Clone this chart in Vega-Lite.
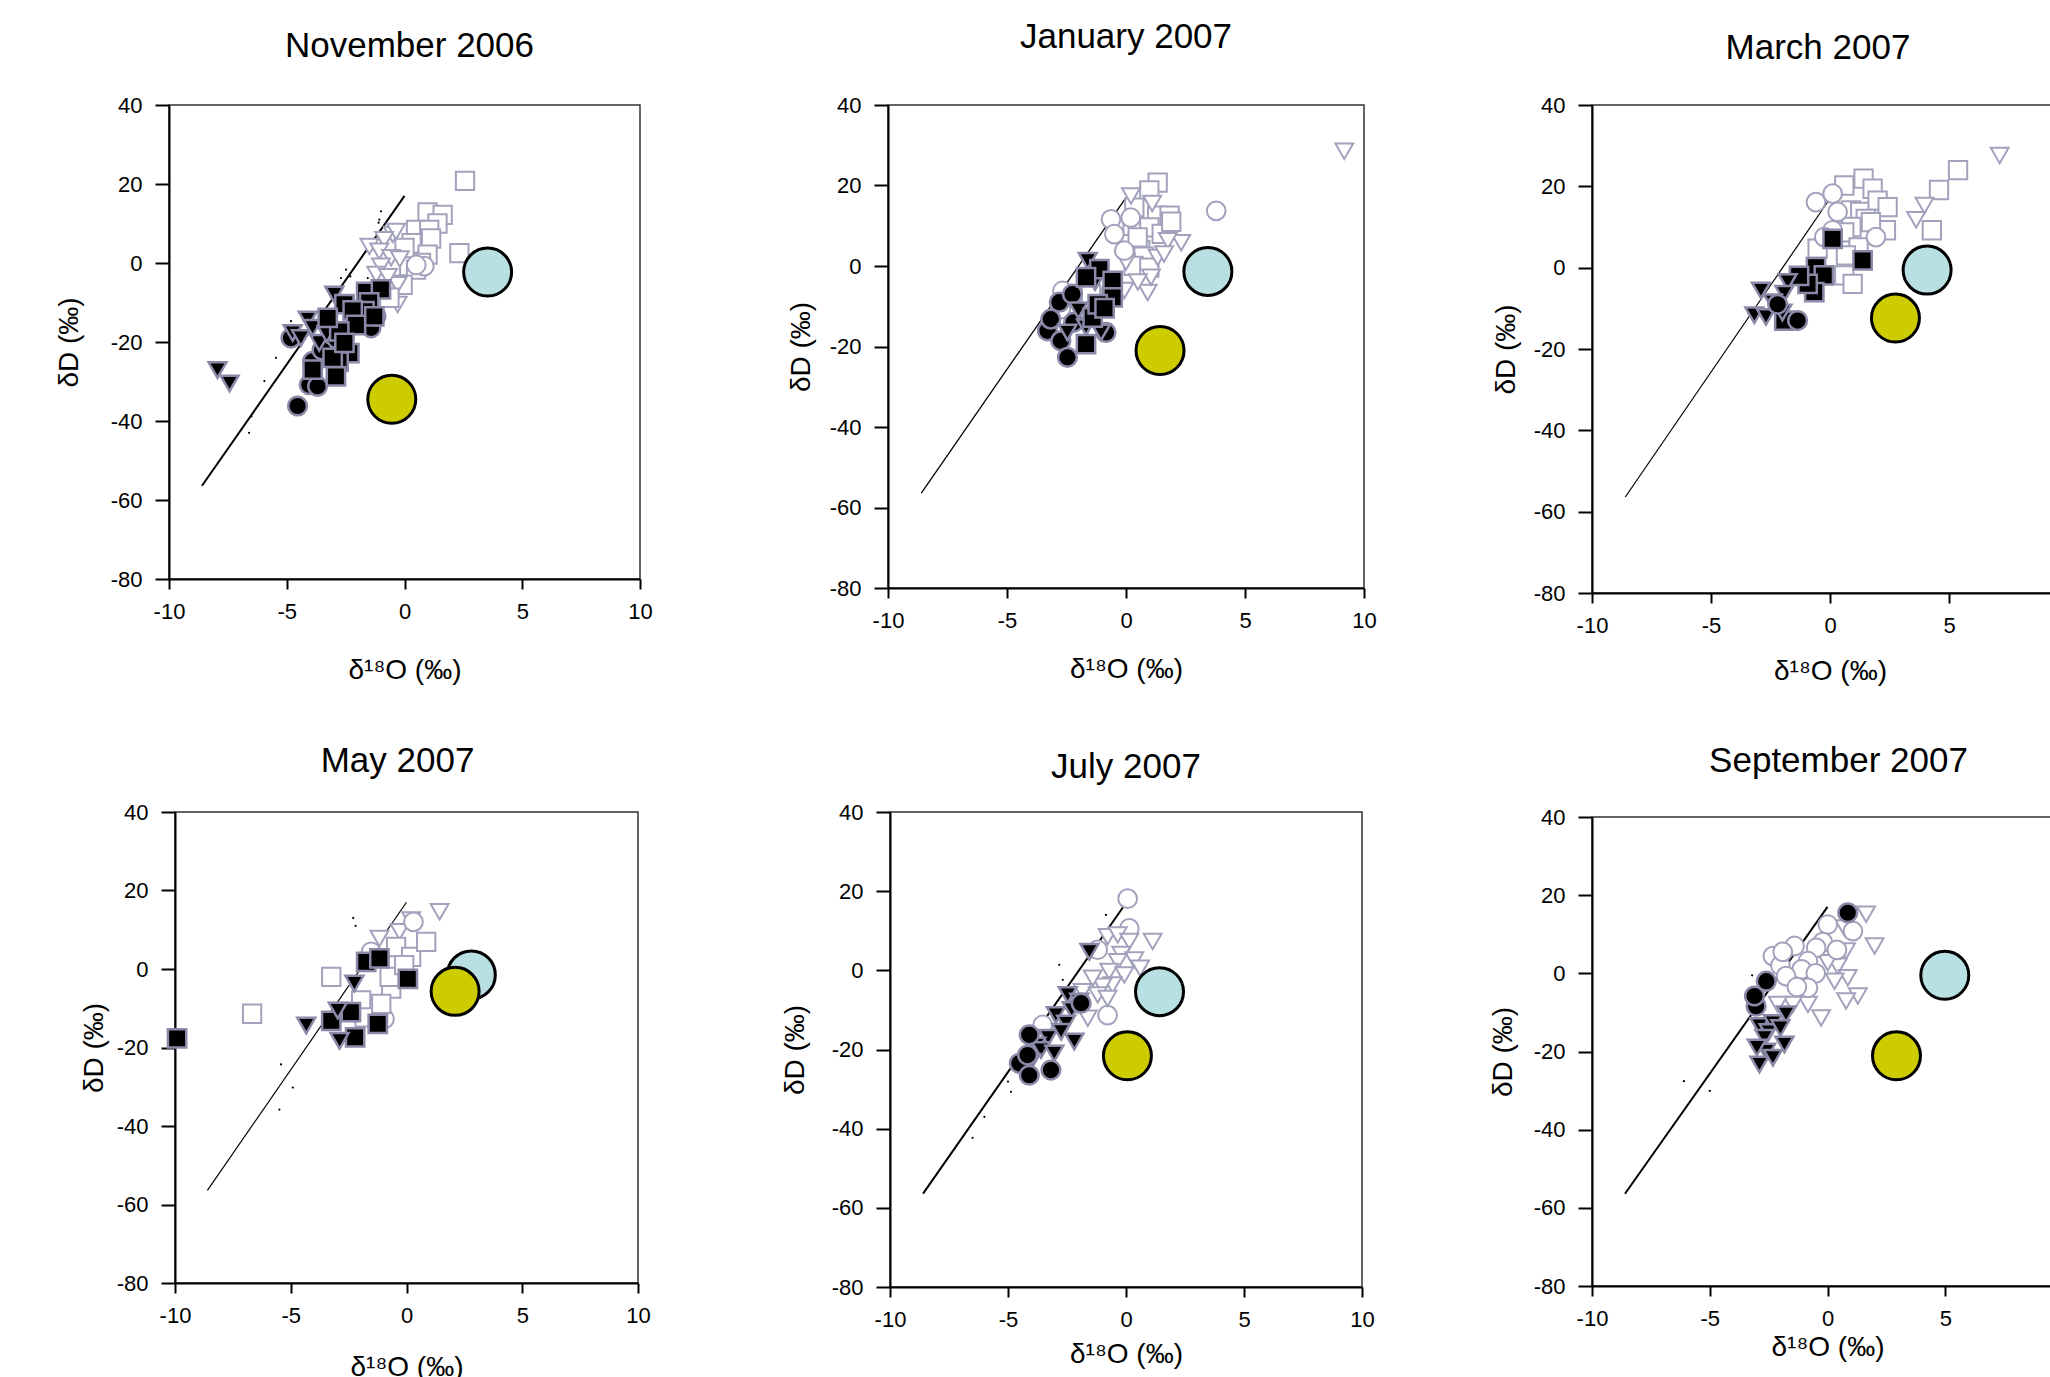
{
  "$schema": "https://vega.github.io/schema/vega-lite/v6.json",
  "background": "white",
  "padding": {"left": 54, "top": 19, "right": 0, "bottom": 0},
  "autosize": {"type": "pad"},
  "datasets": {
    "lmwl": [{"d18O": -8.6, "dD": -56.4, "d18O_end": 0, "dD_end": 17}],
    "ends": [
      {"month": "Nov 2006", "end": "A", "d18O": 3.53, "dD": -2.3},
      {"month": "Nov 2006", "end": "B", "d18O": -0.54, "dD": -34.5},
      {"month": "Jan 2007", "end": "A", "d18O": 3.44, "dD": -1.35},
      {"month": "Jan 2007", "end": "B", "d18O": 1.43, "dD": -21.0},
      {"month": "Mar 2007", "end": "A", "d18O": 4.08, "dD": -0.6},
      {"month": "Mar 2007", "end": "B", "d18O": 2.75, "dD": -12.4},
      {"month": "May 2007", "end": "A", "d18O": 2.8, "dD": -1.5},
      {"month": "May 2007", "end": "B", "d18O": 2.1, "dD": -5.7},
      {"month": "Jul 2007", "end": "A", "d18O": 1.42, "dD": -5.4},
      {"month": "Jul 2007", "end": "B", "d18O": 0.06, "dD": -21.6},
      {"month": "Sep 2007", "end": "A", "d18O": 4.98, "dD": -0.5},
      {"month": "Sep 2007", "end": "B", "d18O": 2.93, "dD": -21.1}
    ],
    "dots": [
      {"month": "Nov 2006", "d18O": -1.0, "dD": 13.1}, {"month": "Nov 2006", "d18O": -1.07, "dD": 11.0}, {"month": "Nov 2006", "d18O": -1.1, "dD": 10.2},
      {"month": "Nov 2006", "d18O": -2.48, "dD": -1.7}, {"month": "Nov 2006", "d18O": -2.7, "dD": -3.8}, {"month": "Nov 2006", "d18O": -2.3, "dD": -3.4},
      {"month": "Nov 2006", "d18O": -1.56, "dD": -3.8}, {"month": "Nov 2006", "d18O": -4.82, "dD": -14.7}, {"month": "Nov 2006", "d18O": -5.46, "dD": -24.0},
      {"month": "Nov 2006", "d18O": -5.95, "dD": -29.9}, {"month": "Nov 2006", "d18O": -6.5, "dD": -38.8}, {"month": "Nov 2006", "d18O": -6.6, "dD": -43.0},
      {"month": "May 2007", "d18O": -5.42, "dD": -24.3}, {"month": "May 2007", "d18O": -4.91, "dD": -30.2}, {"month": "May 2007", "d18O": -5.49, "dD": -35.8},
      {"month": "May 2007", "d18O": -2.3, "dD": 13.0}, {"month": "May 2007", "d18O": -2.2, "dD": 11.0},
      {"month": "Jul 2007", "d18O": -0.85, "dD": 14.0}, {"month": "Jul 2007", "d18O": -2.83, "dD": 1.4}, {"month": "Jul 2007", "d18O": -2.68, "dD": -2.4},
      {"month": "Jul 2007", "d18O": -5.0, "dD": -28.1}, {"month": "Jul 2007", "d18O": -4.87, "dD": -30.7}, {"month": "Jul 2007", "d18O": -6.0, "dD": -37.0},
      {"month": "Jul 2007", "d18O": -6.5, "dD": -42.3},
      {"month": "Sep 2007", "d18O": -5.0, "dD": -30.1}, {"month": "Sep 2007", "d18O": -6.1, "dD": -27.6}, {"month": "Sep 2007", "d18O": -3.2, "dD": -0.5}
    ],
    "pts": [
      {"month": "Nov 2006", "group": "open", "symbol": "square", "d18O": 2.57, "dD": 20.8},
      {"month": "Nov 2006", "group": "open", "symbol": "square", "d18O": 0.98, "dD": 12.8},
      {"month": "Nov 2006", "group": "open", "symbol": "square", "d18O": 1.62, "dD": 12.2},
      {"month": "Nov 2006", "group": "open", "symbol": "square", "d18O": 1.4, "dD": 10.0},
      {"month": "Nov 2006", "group": "open", "symbol": "square", "d18O": 0.49, "dD": 8.4},
      {"month": "Nov 2006", "group": "open", "symbol": "square", "d18O": 1.05, "dD": 8.4},
      {"month": "Nov 2006", "group": "open", "symbol": "square", "d18O": 1.13, "dD": 6.2},
      {"month": "Nov 2006", "group": "open", "symbol": "square", "d18O": 0.3, "dD": 5.0},
      {"month": "Nov 2006", "group": "open", "symbol": "square", "d18O": 2.33, "dD": 2.5},
      {"month": "Nov 2006", "group": "open", "symbol": "square", "d18O": 0.98, "dD": 2.1},
      {"month": "Nov 2006", "group": "open", "symbol": "square", "d18O": 0.7, "dD": 0.0},
      {"month": "Nov 2006", "group": "open", "symbol": "square", "d18O": 0.2, "dD": -0.8},
      {"month": "Nov 2006", "group": "open", "symbol": "square", "d18O": 0.49, "dD": -1.7},
      {"month": "Nov 2006", "group": "open", "symbol": "square", "d18O": -0.08, "dD": -5.5},
      {"month": "Nov 2006", "group": "open", "symbol": "square", "d18O": 0.0, "dD": 3.8},
      {"month": "Nov 2006", "group": "open", "symbol": "triangle", "d18O": -1.49, "dD": 4.2},
      {"month": "Nov 2006", "group": "open", "symbol": "triangle", "d18O": -0.5, "dD": 7.2},
      {"month": "Nov 2006", "group": "open", "symbol": "triangle", "d18O": -0.36, "dD": 8.0},
      {"month": "Nov 2006", "group": "open", "symbol": "triangle", "d18O": -0.86, "dD": 5.9},
      {"month": "Nov 2006", "group": "open", "symbol": "triangle", "d18O": -1.07, "dD": 3.0},
      {"month": "Nov 2006", "group": "open", "symbol": "triangle", "d18O": -0.57, "dD": 1.3},
      {"month": "Nov 2006", "group": "open", "symbol": "triangle", "d18O": -1.0, "dD": -0.8},
      {"month": "Nov 2006", "group": "open", "symbol": "triangle", "d18O": -1.2, "dD": -2.9},
      {"month": "Nov 2006", "group": "open", "symbol": "triangle", "d18O": -0.29, "dD": -5.5},
      {"month": "Nov 2006", "group": "open", "symbol": "triangle", "d18O": -0.29, "dD": -10.5},
      {"month": "Nov 2006", "group": "open", "symbol": "triangle", "d18O": -0.7, "dD": -3.5},
      {"month": "Nov 2006", "group": "open", "symbol": "triangle", "d18O": -0.2, "dD": 1.0},
      {"month": "Nov 2006", "group": "open", "symbol": "circle", "d18O": 0.84, "dD": -0.8},
      {"month": "Nov 2006", "group": "open", "symbol": "circle", "d18O": 0.5, "dD": -0.5},
      {"month": "Nov 2006", "group": "filled", "symbol": "circle", "d18O": -4.54, "dD": -36.2},
      {"month": "Nov 2006", "group": "filled", "symbol": "circle", "d18O": -4.04, "dD": -30.8},
      {"month": "Nov 2006", "group": "filled", "symbol": "circle", "d18O": -3.69, "dD": -31.2},
      {"month": "Nov 2006", "group": "filled", "symbol": "circle", "d18O": -4.82, "dD": -19.0},
      {"month": "Nov 2006", "group": "filled", "symbol": "circle", "d18O": -3.9, "dD": -24.9},
      {"month": "Nov 2006", "group": "filled", "symbol": "circle", "d18O": -1.42, "dD": -16.4},
      {"month": "Nov 2006", "group": "filled", "symbol": "circle", "d18O": -1.21, "dD": -13.5},
      {"month": "Nov 2006", "group": "filled", "symbol": "circle", "d18O": -2.98, "dD": -19.0},
      {"month": "Nov 2006", "group": "filled", "symbol": "circle", "d18O": -3.5, "dD": -22.0},
      {"month": "Nov 2006", "group": "filled", "symbol": "triangle", "d18O": -2.98, "dD": -8.0},
      {"month": "Nov 2006", "group": "filled", "symbol": "triangle", "d18O": -4.11, "dD": -14.3},
      {"month": "Nov 2006", "group": "filled", "symbol": "triangle", "d18O": -4.75, "dD": -17.7},
      {"month": "Nov 2006", "group": "filled", "symbol": "triangle", "d18O": -4.4, "dD": -19.0},
      {"month": "Nov 2006", "group": "filled", "symbol": "triangle", "d18O": -3.62, "dD": -20.2},
      {"month": "Nov 2006", "group": "filled", "symbol": "triangle", "d18O": -3.9, "dD": -16.4},
      {"month": "Nov 2006", "group": "filled", "symbol": "triangle", "d18O": -3.3, "dD": -18.0},
      {"month": "Nov 2006", "group": "filled", "symbol": "triangle", "d18O": -7.94, "dD": -27.1},
      {"month": "Nov 2006", "group": "filled", "symbol": "triangle", "d18O": -7.43, "dD": -30.5},
      {"month": "Nov 2006", "group": "filled", "symbol": "square", "d18O": -1.63, "dD": -7.3},
      {"month": "Nov 2006", "group": "filled", "symbol": "square", "d18O": -1.0, "dD": -6.7},
      {"month": "Nov 2006", "group": "filled", "symbol": "square", "d18O": -2.55, "dD": -10.4},
      {"month": "Nov 2006", "group": "filled", "symbol": "square", "d18O": -1.5, "dD": -10.0},
      {"month": "Nov 2006", "group": "filled", "symbol": "square", "d18O": -1.7, "dD": -12.2},
      {"month": "Nov 2006", "group": "filled", "symbol": "square", "d18O": -2.2, "dD": -12.0},
      {"month": "Nov 2006", "group": "filled", "symbol": "square", "d18O": -2.06, "dD": -15.7},
      {"month": "Nov 2006", "group": "filled", "symbol": "square", "d18O": -1.28, "dD": -13.5},
      {"month": "Nov 2006", "group": "filled", "symbol": "square", "d18O": -2.77, "dD": -17.3},
      {"month": "Nov 2006", "group": "filled", "symbol": "square", "d18O": -3.26, "dD": -13.9},
      {"month": "Nov 2006", "group": "filled", "symbol": "square", "d18O": -2.34, "dD": -22.8},
      {"month": "Nov 2006", "group": "filled", "symbol": "square", "d18O": -2.8, "dD": -25.0},
      {"month": "Nov 2006", "group": "filled", "symbol": "square", "d18O": -3.05, "dD": -24.0},
      {"month": "Nov 2006", "group": "filled", "symbol": "square", "d18O": -3.9, "dD": -27.0},
      {"month": "Nov 2006", "group": "filled", "symbol": "square", "d18O": -2.91, "dD": -28.7},
      {"month": "Nov 2006", "group": "filled", "symbol": "square", "d18O": -2.55, "dD": -20.2},
      {"month": "Nov 2006", "group": "open", "symbol": "square", "d18O": -0.64, "dD": -8.8},

      {"month": "Jan 2007", "group": "open", "symbol": "square", "d18O": 1.33, "dD": 20.7},
      {"month": "Jan 2007", "group": "open", "symbol": "square", "d18O": 0.98, "dD": 18.8},
      {"month": "Jan 2007", "group": "open", "symbol": "square", "d18O": 0.35, "dD": 14.5},
      {"month": "Jan 2007", "group": "open", "symbol": "square", "d18O": 1.31, "dD": 12.5},
      {"month": "Jan 2007", "group": "open", "symbol": "square", "d18O": 1.83, "dD": 12.5},
      {"month": "Jan 2007", "group": "open", "symbol": "square", "d18O": 0.28, "dD": 10.0},
      {"month": "Jan 2007", "group": "open", "symbol": "square", "d18O": 0.98, "dD": 9.6},
      {"month": "Jan 2007", "group": "open", "symbol": "square", "d18O": 1.5, "dD": 8.0},
      {"month": "Jan 2007", "group": "open", "symbol": "square", "d18O": 0.6, "dD": 4.0},
      {"month": "Jan 2007", "group": "open", "symbol": "square", "d18O": 0.74, "dD": 2.3},
      {"month": "Jan 2007", "group": "open", "symbol": "square", "d18O": 0.32, "dD": 0.05},
      {"month": "Jan 2007", "group": "open", "symbol": "square", "d18O": 0.98, "dD": -0.4},
      {"month": "Jan 2007", "group": "open", "symbol": "square", "d18O": 0.49, "dD": 7.1},
      {"month": "Jan 2007", "group": "open", "symbol": "square", "d18O": 1.9, "dD": 11.0},
      {"month": "Jan 2007", "group": "open", "symbol": "triangle", "d18O": 0.21, "dD": 17.4},
      {"month": "Jan 2007", "group": "open", "symbol": "triangle", "d18O": 2.32, "dD": 5.8},
      {"month": "Jan 2007", "group": "open", "symbol": "triangle", "d18O": 1.76, "dD": 6.3},
      {"month": "Jan 2007", "group": "open", "symbol": "triangle", "d18O": 0.91, "dD": -6.6},
      {"month": "Jan 2007", "group": "open", "symbol": "triangle", "d18O": 1.33, "dD": 2.1},
      {"month": "Jan 2007", "group": "open", "symbol": "triangle", "d18O": 1.6, "dD": 3.0},
      {"month": "Jan 2007", "group": "open", "symbol": "triangle", "d18O": 1.05, "dD": -2.8},
      {"month": "Jan 2007", "group": "open", "symbol": "triangle", "d18O": -0.07, "dD": -6.1},
      {"month": "Jan 2007", "group": "open", "symbol": "triangle", "d18O": 1.1, "dD": 15.5},
      {"month": "Jan 2007", "group": "open", "symbol": "triangle", "d18O": 0.5, "dD": -4.0},
      {"month": "Jan 2007", "group": "open", "symbol": "triangle", "d18O": 0.0, "dD": 1.0},
      {"month": "Jan 2007", "group": "open", "symbol": "triangle", "d18O": 9.17, "dD": 28.5},
      {"month": "Jan 2007", "group": "open", "symbol": "circle", "d18O": 3.79, "dD": 13.7},
      {"month": "Jan 2007", "group": "open", "symbol": "circle", "d18O": -0.63, "dD": 11.6},
      {"month": "Jan 2007", "group": "open", "symbol": "circle", "d18O": -0.49, "dD": 7.9},
      {"month": "Jan 2007", "group": "open", "symbol": "circle", "d18O": 0.2, "dD": 12.0},
      {"month": "Jan 2007", "group": "open", "symbol": "circle", "d18O": -0.07, "dD": 3.8},
      {"month": "Jan 2007", "group": "open", "symbol": "circle", "d18O": -0.63, "dD": -6.2},
      {"month": "Jan 2007", "group": "open", "symbol": "circle", "d18O": -2.67, "dD": -6.2},
      {"month": "Jan 2007", "group": "open", "symbol": "circle", "d18O": -2.74, "dD": -10.7},
      {"month": "Jan 2007", "group": "filled", "symbol": "circle", "d18O": -2.8, "dD": -9.0},
      {"month": "Jan 2007", "group": "filled", "symbol": "circle", "d18O": -3.3, "dD": -16.1},
      {"month": "Jan 2007", "group": "filled", "symbol": "circle", "d18O": -2.74, "dD": -18.6},
      {"month": "Jan 2007", "group": "filled", "symbol": "circle", "d18O": -2.46, "dD": -22.7},
      {"month": "Jan 2007", "group": "filled", "symbol": "circle", "d18O": -0.84, "dD": -16.5},
      {"month": "Jan 2007", "group": "filled", "symbol": "circle", "d18O": -3.16, "dD": -13.2},
      {"month": "Jan 2007", "group": "filled", "symbol": "circle", "d18O": -2.25, "dD": -7.0},
      {"month": "Jan 2007", "group": "filled", "symbol": "circle", "d18O": -2.2, "dD": -14.0},
      {"month": "Jan 2007", "group": "filled", "symbol": "triangle", "d18O": -1.61, "dD": 1.3},
      {"month": "Jan 2007", "group": "filled", "symbol": "triangle", "d18O": -2.46, "dD": -16.5},
      {"month": "Jan 2007", "group": "filled", "symbol": "triangle", "d18O": -1.68, "dD": -15.2},
      {"month": "Jan 2007", "group": "filled", "symbol": "triangle", "d18O": -1.05, "dD": -16.5},
      {"month": "Jan 2007", "group": "filled", "symbol": "triangle", "d18O": -1.3, "dD": -4.0},
      {"month": "Jan 2007", "group": "filled", "symbol": "triangle", "d18O": -2.0, "dD": -11.0},
      {"month": "Jan 2007", "group": "filled", "symbol": "square", "d18O": -1.12, "dD": -0.8},
      {"month": "Jan 2007", "group": "filled", "symbol": "square", "d18O": -0.56, "dD": -3.7},
      {"month": "Jan 2007", "group": "filled", "symbol": "square", "d18O": -0.56, "dD": -7.8},
      {"month": "Jan 2007", "group": "filled", "symbol": "square", "d18O": -1.68, "dD": -2.8},
      {"month": "Jan 2007", "group": "filled", "symbol": "square", "d18O": -1.68, "dD": -19.4},
      {"month": "Jan 2007", "group": "filled", "symbol": "square", "d18O": -1.4, "dD": -12.8},
      {"month": "Jan 2007", "group": "filled", "symbol": "square", "d18O": -1.19, "dD": -9.5},
      {"month": "Jan 2007", "group": "filled", "symbol": "square", "d18O": -0.9, "dD": -10.5},
      {"month": "Jan 2007", "group": "open", "symbol": "square", "d18O": -1.47, "dD": -7.0},

      {"month": "Mar 2007", "group": "open", "symbol": "square", "d18O": 0.6, "dD": 20.2},
      {"month": "Mar 2007", "group": "open", "symbol": "square", "d18O": 1.41, "dD": 21.9},
      {"month": "Mar 2007", "group": "open", "symbol": "square", "d18O": 1.79, "dD": 19.4},
      {"month": "Mar 2007", "group": "open", "symbol": "square", "d18O": 0.88, "dD": 14.1},
      {"month": "Mar 2007", "group": "open", "symbol": "square", "d18O": 1.27, "dD": 13.7},
      {"month": "Mar 2007", "group": "open", "symbol": "square", "d18O": 2.0, "dD": 16.5},
      {"month": "Mar 2007", "group": "open", "symbol": "square", "d18O": 2.42, "dD": 14.9},
      {"month": "Mar 2007", "group": "open", "symbol": "square", "d18O": 1.5, "dD": 12.0},
      {"month": "Mar 2007", "group": "open", "symbol": "square", "d18O": 2.35, "dD": 9.2},
      {"month": "Mar 2007", "group": "open", "symbol": "square", "d18O": 1.72, "dD": 11.2},
      {"month": "Mar 2007", "group": "open", "symbol": "square", "d18O": 0.9, "dD": 10.0},
      {"month": "Mar 2007", "group": "open", "symbol": "square", "d18O": 0.6, "dD": 8.7},
      {"month": "Mar 2007", "group": "open", "symbol": "square", "d18O": 1.2, "dD": 5.0},
      {"month": "Mar 2007", "group": "open", "symbol": "square", "d18O": -0.52, "dD": 4.7},
      {"month": "Mar 2007", "group": "open", "symbol": "square", "d18O": 0.67, "dD": 3.0},
      {"month": "Mar 2007", "group": "open", "symbol": "square", "d18O": 0.6, "dD": -1.9},
      {"month": "Mar 2007", "group": "open", "symbol": "square", "d18O": 0.95, "dD": -4.0},
      {"month": "Mar 2007", "group": "open", "symbol": "square", "d18O": 5.38, "dD": 24.0},
      {"month": "Mar 2007", "group": "open", "symbol": "square", "d18O": 4.58, "dD": 19.1},
      {"month": "Mar 2007", "group": "open", "symbol": "square", "d18O": 4.28, "dD": 9.2},
      {"month": "Mar 2007", "group": "open", "symbol": "triangle", "d18O": 7.13, "dD": 27.6},
      {"month": "Mar 2007", "group": "open", "symbol": "triangle", "d18O": 3.97, "dD": 15.3},
      {"month": "Mar 2007", "group": "open", "symbol": "triangle", "d18O": 3.62, "dD": 11.8},
      {"month": "Mar 2007", "group": "open", "symbol": "circle", "d18O": -0.59, "dD": 16.1},
      {"month": "Mar 2007", "group": "open", "symbol": "circle", "d18O": 0.11, "dD": 18.2},
      {"month": "Mar 2007", "group": "open", "symbol": "circle", "d18O": 0.32, "dD": 13.7},
      {"month": "Mar 2007", "group": "open", "symbol": "circle", "d18O": 0.11, "dD": 9.2},
      {"month": "Mar 2007", "group": "open", "symbol": "circle", "d18O": -0.24, "dD": 7.5},
      {"month": "Mar 2007", "group": "open", "symbol": "circle", "d18O": 1.93, "dD": 7.5},
      {"month": "Mar 2007", "group": "filled", "symbol": "square", "d18O": -0.59, "dD": 0.15},
      {"month": "Mar 2007", "group": "filled", "symbol": "square", "d18O": -0.26, "dD": -1.9},
      {"month": "Mar 2007", "group": "filled", "symbol": "square", "d18O": -0.66, "dD": -6.0},
      {"month": "Mar 2007", "group": "filled", "symbol": "square", "d18O": 0.11, "dD": 7.1},
      {"month": "Mar 2007", "group": "filled", "symbol": "square", "d18O": 1.37, "dD": 1.8},
      {"month": "Mar 2007", "group": "filled", "symbol": "square", "d18O": -1.92, "dD": -13.0},
      {"month": "Mar 2007", "group": "filled", "symbol": "square", "d18O": -0.94, "dD": -4.0},
      {"month": "Mar 2007", "group": "filled", "symbol": "square", "d18O": -1.3, "dD": -2.0},
      {"month": "Mar 2007", "group": "filled", "symbol": "triangle", "d18O": -1.78, "dD": -3.5},
      {"month": "Mar 2007", "group": "filled", "symbol": "triangle", "d18O": -2.9, "dD": -5.6},
      {"month": "Mar 2007", "group": "filled", "symbol": "triangle", "d18O": -3.18, "dD": -11.7},
      {"month": "Mar 2007", "group": "filled", "symbol": "triangle", "d18O": -2.69, "dD": -12.1},
      {"month": "Mar 2007", "group": "filled", "symbol": "triangle", "d18O": -1.92, "dD": -6.4},
      {"month": "Mar 2007", "group": "filled", "symbol": "triangle", "d18O": -2.4, "dD": -8.5},
      {"month": "Mar 2007", "group": "filled", "symbol": "triangle", "d18O": -2.0, "dD": -11.0},
      {"month": "Mar 2007", "group": "filled", "symbol": "circle", "d18O": -1.36, "dD": -13.0},
      {"month": "Mar 2007", "group": "filled", "symbol": "circle", "d18O": -2.2, "dD": -9.0},

      {"month": "May 2007", "group": "open", "symbol": "square", "d18O": -6.67, "dD": -11.4},
      {"month": "May 2007", "group": "open", "symbol": "square", "d18O": -3.25, "dD": -2.0},
      {"month": "May 2007", "group": "open", "symbol": "triangle", "d18O": 1.43, "dD": 14.6},
      {"month": "May 2007", "group": "open", "symbol": "triangle", "d18O": 0.2, "dD": 12.5},
      {"month": "May 2007", "group": "open", "symbol": "triangle", "d18O": -0.3, "dD": 9.5},
      {"month": "May 2007", "group": "open", "symbol": "triangle", "d18O": -1.17, "dD": 7.8},
      {"month": "May 2007", "group": "open", "symbol": "circle", "d18O": 0.3, "dD": 12.0},
      {"month": "May 2007", "group": "open", "symbol": "circle", "d18O": -1.53, "dD": 4.4},
      {"month": "May 2007", "group": "open", "symbol": "circle", "d18O": -0.95, "dD": -12.7},
      {"month": "May 2007", "group": "filled", "symbol": "square", "d18O": -9.91, "dD": -17.7},
      {"month": "May 2007", "group": "filled", "symbol": "square", "d18O": -3.25, "dD": -13.2},
      {"month": "May 2007", "group": "filled", "symbol": "square", "d18O": -2.22, "dD": -17.4},
      {"month": "May 2007", "group": "filled", "symbol": "square", "d18O": -1.74, "dD": 1.8},
      {"month": "May 2007", "group": "filled", "symbol": "square", "d18O": -1.17, "dD": 2.7},
      {"month": "May 2007", "group": "filled", "symbol": "square", "d18O": -1.24, "dD": -14.0},
      {"month": "May 2007", "group": "filled", "symbol": "square", "d18O": -2.4, "dD": -11.0},
      {"month": "May 2007", "group": "filled", "symbol": "square", "d18O": 0.06, "dD": -2.5},
      {"month": "May 2007", "group": "filled", "symbol": "triangle", "d18O": -4.33, "dD": -14.4},
      {"month": "May 2007", "group": "filled", "symbol": "triangle", "d18O": -2.89, "dD": -18.3},
      {"month": "May 2007", "group": "filled", "symbol": "triangle", "d18O": -2.97, "dD": -10.6},
      {"month": "May 2007", "group": "filled", "symbol": "triangle", "d18O": -2.25, "dD": -3.7},
      {"month": "May 2007", "group": "open", "symbol": "square", "d18O": -1.96, "dD": -8.0},
      {"month": "May 2007", "group": "open", "symbol": "square", "d18O": -1.81, "dD": -12.3},
      {"month": "May 2007", "group": "open", "symbol": "square", "d18O": -0.66, "dD": -5.0},
      {"month": "May 2007", "group": "open", "symbol": "square", "d18O": -0.45, "dD": 5.6},
      {"month": "May 2007", "group": "open", "symbol": "square", "d18O": 0.2, "dD": 3.1},
      {"month": "May 2007", "group": "open", "symbol": "square", "d18O": 0.85, "dD": 6.9},
      {"month": "May 2007", "group": "open", "symbol": "square", "d18O": -1.09, "dD": -8.9},
      {"month": "May 2007", "group": "open", "symbol": "square", "d18O": -0.73, "dD": -2.0},
      {"month": "May 2007", "group": "open", "symbol": "square", "d18O": -0.1, "dD": 1.0},

      {"month": "Jul 2007", "group": "open", "symbol": "circle", "d18O": 0.07, "dD": 18.1},
      {"month": "Jul 2007", "group": "open", "symbol": "circle", "d18O": 0.14, "dD": 10.6},
      {"month": "Jul 2007", "group": "open", "symbol": "circle", "d18O": -1.2, "dD": 5.2},
      {"month": "Jul 2007", "group": "open", "symbol": "circle", "d18O": -0.78, "dD": -11.3},
      {"month": "Jul 2007", "group": "open", "symbol": "circle", "d18O": -3.53, "dD": -13.8},
      {"month": "Jul 2007", "group": "open", "symbol": "triangle", "d18O": -0.78, "dD": 8.5},
      {"month": "Jul 2007", "group": "open", "symbol": "triangle", "d18O": -0.35, "dD": 8.9},
      {"month": "Jul 2007", "group": "open", "symbol": "triangle", "d18O": 0.14, "dD": 7.3},
      {"month": "Jul 2007", "group": "open", "symbol": "triangle", "d18O": 1.13, "dD": 7.3},
      {"month": "Jul 2007", "group": "open", "symbol": "triangle", "d18O": -0.2, "dD": 4.0},
      {"month": "Jul 2007", "group": "open", "symbol": "triangle", "d18O": 0.35, "dD": 2.6},
      {"month": "Jul 2007", "group": "open", "symbol": "triangle", "d18O": -0.35, "dD": 2.2},
      {"month": "Jul 2007", "group": "open", "symbol": "triangle", "d18O": 0.6, "dD": 0.5},
      {"month": "Jul 2007", "group": "open", "symbol": "triangle", "d18O": -0.71, "dD": -0.3},
      {"month": "Jul 2007", "group": "open", "symbol": "triangle", "d18O": -0.07, "dD": -1.2},
      {"month": "Jul 2007", "group": "open", "symbol": "triangle", "d18O": -0.57, "dD": -3.7},
      {"month": "Jul 2007", "group": "open", "symbol": "triangle", "d18O": -1.0, "dD": -4.0},
      {"month": "Jul 2007", "group": "open", "symbol": "triangle", "d18O": -1.41, "dD": -2.0},
      {"month": "Jul 2007", "group": "open", "symbol": "triangle", "d18O": -1.84, "dD": -5.4},
      {"month": "Jul 2007", "group": "open", "symbol": "triangle", "d18O": -1.2, "dD": -6.2},
      {"month": "Jul 2007", "group": "open", "symbol": "triangle", "d18O": -0.78, "dD": -7.1},
      {"month": "Jul 2007", "group": "open", "symbol": "triangle", "d18O": -1.62, "dD": -12.1},
      {"month": "Jul 2007", "group": "open", "symbol": "triangle", "d18O": -2.05, "dD": -8.8},
      {"month": "Jul 2007", "group": "filled", "symbol": "triangle", "d18O": -1.55, "dD": 4.7},
      {"month": "Jul 2007", "group": "filled", "symbol": "triangle", "d18O": -2.47, "dD": -6.2},
      {"month": "Jul 2007", "group": "filled", "symbol": "triangle", "d18O": -1.98, "dD": -7.9},
      {"month": "Jul 2007", "group": "filled", "symbol": "triangle", "d18O": -2.3, "dD": -10.0},
      {"month": "Jul 2007", "group": "filled", "symbol": "triangle", "d18O": -2.97, "dD": -11.3},
      {"month": "Jul 2007", "group": "filled", "symbol": "triangle", "d18O": -2.54, "dD": -13.4},
      {"month": "Jul 2007", "group": "filled", "symbol": "triangle", "d18O": -2.19, "dD": -18.0},
      {"month": "Jul 2007", "group": "filled", "symbol": "triangle", "d18O": -3.3, "dD": -17.0},
      {"month": "Jul 2007", "group": "filled", "symbol": "triangle", "d18O": -3.8, "dD": -19.0},
      {"month": "Jul 2007", "group": "filled", "symbol": "triangle", "d18O": -3.6, "dD": -20.1},
      {"month": "Jul 2007", "group": "filled", "symbol": "triangle", "d18O": -3.04, "dD": -21.0},
      {"month": "Jul 2007", "group": "filled", "symbol": "triangle", "d18O": -2.75, "dD": -15.5},
      {"month": "Jul 2007", "group": "filled", "symbol": "triangle", "d18O": -4.03, "dD": -23.1},
      {"month": "Jul 2007", "group": "filled", "symbol": "circle", "d18O": -4.1, "dD": -16.3},
      {"month": "Jul 2007", "group": "filled", "symbol": "circle", "d18O": -4.52, "dD": -23.5},
      {"month": "Jul 2007", "group": "filled", "symbol": "circle", "d18O": -4.1, "dD": -26.5},
      {"month": "Jul 2007", "group": "filled", "symbol": "circle", "d18O": -3.18, "dD": -25.2},
      {"month": "Jul 2007", "group": "filled", "symbol": "circle", "d18O": -4.17, "dD": -21.4},
      {"month": "Jul 2007", "group": "filled", "symbol": "circle", "d18O": -1.9, "dD": -8.3},

      {"month": "Sep 2007", "group": "open", "symbol": "triangle", "d18O": 1.64, "dD": 15.1},
      {"month": "Sep 2007", "group": "open", "symbol": "triangle", "d18O": 0.72, "dD": 11.6},
      {"month": "Sep 2007", "group": "open", "symbol": "triangle", "d18O": 2.0, "dD": 7.0},
      {"month": "Sep 2007", "group": "open", "symbol": "triangle", "d18O": 0.79, "dD": 5.7},
      {"month": "Sep 2007", "group": "open", "symbol": "triangle", "d18O": 0.44, "dD": 1.8},
      {"month": "Sep 2007", "group": "open", "symbol": "triangle", "d18O": 0.86, "dD": -1.1},
      {"month": "Sep 2007", "group": "open", "symbol": "triangle", "d18O": 1.29, "dD": -5.8},
      {"month": "Sep 2007", "group": "open", "symbol": "triangle", "d18O": 0.79, "dD": -7.1},
      {"month": "Sep 2007", "group": "open", "symbol": "triangle", "d18O": -0.27, "dD": -11.4},
      {"month": "Sep 2007", "group": "open", "symbol": "triangle", "d18O": -0.83, "dD": -7.96},
      {"month": "Sep 2007", "group": "open", "symbol": "triangle", "d18O": -1.47, "dD": -7.96},
      {"month": "Sep 2007", "group": "open", "symbol": "triangle", "d18O": -2.11, "dD": -7.96},
      {"month": "Sep 2007", "group": "open", "symbol": "triangle", "d18O": 0.01, "dD": 2.7},
      {"month": "Sep 2007", "group": "open", "symbol": "triangle", "d18O": 0.3, "dD": -2.0},
      {"month": "Sep 2007", "group": "open", "symbol": "circle", "d18O": 0.01, "dD": 12.5},
      {"month": "Sep 2007", "group": "open", "symbol": "circle", "d18O": 1.08, "dD": 10.8},
      {"month": "Sep 2007", "group": "open", "symbol": "circle", "d18O": -0.2, "dD": 8.0},
      {"month": "Sep 2007", "group": "open", "symbol": "circle", "d18O": -0.48, "dD": 6.5},
      {"month": "Sep 2007", "group": "open", "symbol": "circle", "d18O": 0.4, "dD": 6.0},
      {"month": "Sep 2007", "group": "open", "symbol": "circle", "d18O": -1.4, "dD": 7.0},
      {"month": "Sep 2007", "group": "open", "symbol": "circle", "d18O": -2.32, "dD": 4.4},
      {"month": "Sep 2007", "group": "open", "symbol": "circle", "d18O": -2.0, "dD": 2.0},
      {"month": "Sep 2007", "group": "open", "symbol": "circle", "d18O": -0.83, "dD": 3.1},
      {"month": "Sep 2007", "group": "open", "symbol": "circle", "d18O": -1.1, "dD": 1.0},
      {"month": "Sep 2007", "group": "open", "symbol": "circle", "d18O": -0.5, "dD": 0.0},
      {"month": "Sep 2007", "group": "open", "symbol": "circle", "d18O": -1.76, "dD": -0.7},
      {"month": "Sep 2007", "group": "open", "symbol": "circle", "d18O": -0.83, "dD": -3.7},
      {"month": "Sep 2007", "group": "open", "symbol": "circle", "d18O": -1.9, "dD": 5.5},
      {"month": "Sep 2007", "group": "open", "symbol": "circle", "d18O": -1.3, "dD": -3.5},
      {"month": "Sep 2007", "group": "filled", "symbol": "circle", "d18O": 0.86, "dD": 15.5},
      {"month": "Sep 2007", "group": "filled", "symbol": "circle", "d18O": -3.03, "dD": -8.4},
      {"month": "Sep 2007", "group": "filled", "symbol": "circle", "d18O": -3.1, "dD": -5.8},
      {"month": "Sep 2007", "group": "filled", "symbol": "circle", "d18O": -2.6, "dD": -2.0},
      {"month": "Sep 2007", "group": "filled", "symbol": "triangle", "d18O": -2.89, "dD": -13.5},
      {"month": "Sep 2007", "group": "filled", "symbol": "triangle", "d18O": -2.32, "dD": -12.7},
      {"month": "Sep 2007", "group": "filled", "symbol": "triangle", "d18O": -1.76, "dD": -10.5},
      {"month": "Sep 2007", "group": "filled", "symbol": "triangle", "d18O": -2.5, "dD": -15.0},
      {"month": "Sep 2007", "group": "filled", "symbol": "triangle", "d18O": -2.0, "dD": -14.0},
      {"month": "Sep 2007", "group": "filled", "symbol": "triangle", "d18O": -2.68, "dD": -16.5},
      {"month": "Sep 2007", "group": "filled", "symbol": "triangle", "d18O": -1.83, "dD": -18.2},
      {"month": "Sep 2007", "group": "filled", "symbol": "triangle", "d18O": -2.6, "dD": -20.0},
      {"month": "Sep 2007", "group": "filled", "symbol": "triangle", "d18O": -2.89, "dD": -23.3},
      {"month": "Sep 2007", "group": "filled", "symbol": "triangle", "d18O": -2.32, "dD": -21.6},
      {"month": "Sep 2007", "group": "filled", "symbol": "triangle", "d18O": -3.0, "dD": -19.0}
    ]
  },
  "spacing": 707,
  "bounds": "flush",
  "vconcat": [
    {
      "spacing": 0,
      "bounds": "flush",
      "hconcat": [
        {"width": 1, "height": 1, "data": {"values": [{"a": 0}]}, "mark": {"type": "point", "opacity": 0}, "view": {"stroke": null}},
        {
          "width": 471, "height": 474,
          "title": {"text": "November 2006", "offset": 30, "dx": 5},
          "encoding": {
            "x": {"field": "d18O", "type": "quantitative", "scale": {"domain": [-10, 10], "nice": false, "zero": false}, "axis": {"title": "δ¹⁸O (‰)", "values": [-10, -5, 0, 5, 10], "labelExpr": "'' + datum.value", "titlePadding": 34}},
            "y": {"field": "dD", "type": "quantitative", "scale": {"domain": [-80, 40], "nice": false, "zero": false}, "axis": {"title": "δD (‰)", "values": [-80, -60, -40, -20, 0, 20, 40], "labelExpr": "'' + datum.value", "titlePadding": 27}}
          },
          "layer": [
            {"data": {"name": "lmwl"}, "mark": {"type": "rule", "color": "black", "strokeWidth": 2}, "encoding": {"x2": {"field": "d18O_end"}, "y2": {"field": "dD_end"}}},
            {"data": {"name": "dots"}, "transform": [{"filter": "datum.month === 'Nov 2006'"}], "mark": {"type": "circle", "size": 5, "color": "black", "opacity": 1}},
            {"data": {"name": "pts"}, "transform": [{"filter": "datum.month === 'Nov 2006' && datum.group === 'open'"}], "mark": {"type": "point", "filled": false, "fill": "white", "fillOpacity": 1, "stroke": "#a2a2bd", "strokeWidth": 2, "opacity": 1},
             "encoding": {"shape": {"field": "symbol", "type": "nominal", "scale": {"domain": ["circle", "square", "triangle"], "range": ["circle", "square", "triangle-down"]}, "legend": null}, "size": {"field": "symbol", "type": "nominal", "scale": {"domain": ["circle", "square", "triangle"], "range": [350, 320, 430]}, "legend": null}}},
            {"data": {"name": "pts"}, "transform": [{"filter": "datum.month === 'Nov 2006' && datum.group === 'filled'"}], "mark": {"type": "point", "filled": true, "fill": "black", "stroke": "#8a8aa8", "strokeWidth": 2.5, "opacity": 1},
             "encoding": {"shape": {"field": "symbol", "type": "nominal", "scale": {"domain": ["circle", "square", "triangle"], "range": ["circle", "square", "triangle-down"]}, "legend": null}, "size": {"field": "symbol", "type": "nominal", "scale": {"domain": ["circle", "square", "triangle"], "range": [350, 320, 430]}, "legend": null}}},
            {"data": {"name": "ends"}, "transform": [{"filter": "datum.month === 'Nov 2006'"}], "mark": {"type": "circle", "size": 2304, "opacity": 1, "stroke": "black", "strokeWidth": 3},
             "encoding": {"fill": {"field": "end", "type": "nominal", "scale": {"domain": ["A", "B"], "range": ["#b8e0e3", "#cccc00"]}, "legend": null}}}
          ]
        },
        {"width": 248, "height": 1, "data": {"values": [{"a": 0}]}, "mark": {"type": "point", "opacity": 0}, "view": {"stroke": null}},
        {
          "width": 476, "height": 483,
          "title": {"text": "January 2007", "offset": 39, "dx": 0},
          "encoding": {
            "x": {"field": "d18O", "type": "quantitative", "scale": {"domain": [-10, 10], "nice": false, "zero": false}, "axis": {"title": "δ¹⁸O (‰)", "values": [-10, -5, 0, 5, 10], "labelExpr": "'' + datum.value", "titlePadding": 24}},
            "y": {"field": "dD", "type": "quantitative", "scale": {"domain": [-80, 40], "nice": false, "zero": false}, "axis": {"title": "δD (‰)", "values": [-80, -60, -40, -20, 0, 20, 40], "labelExpr": "'' + datum.value", "titlePadding": 14}}
          },
          "layer": [
            {"data": {"name": "lmwl"}, "mark": {"type": "rule", "color": "black", "strokeWidth": 1.3}, "encoding": {"x2": {"field": "d18O_end"}, "y2": {"field": "dD_end"}}},
            {"data": {"name": "pts"}, "transform": [{"filter": "datum.month === 'Jan 2007' && datum.group === 'open'"}], "mark": {"type": "point", "filled": false, "fill": "white", "fillOpacity": 1, "stroke": "#a2a2bd", "strokeWidth": 2, "opacity": 1},
             "encoding": {"shape": {"field": "symbol", "type": "nominal", "scale": {"domain": ["circle", "square", "triangle"], "range": ["circle", "square", "triangle-down"]}, "legend": null}, "size": {"field": "symbol", "type": "nominal", "scale": {"domain": ["circle", "square", "triangle"], "range": [350, 320, 430]}, "legend": null}}},
            {"data": {"name": "pts"}, "transform": [{"filter": "datum.month === 'Jan 2007' && datum.group === 'filled'"}], "mark": {"type": "point", "filled": true, "fill": "black", "stroke": "#8a8aa8", "strokeWidth": 2.5, "opacity": 1},
             "encoding": {"shape": {"field": "symbol", "type": "nominal", "scale": {"domain": ["circle", "square", "triangle"], "range": ["circle", "square", "triangle-down"]}, "legend": null}, "size": {"field": "symbol", "type": "nominal", "scale": {"domain": ["circle", "square", "triangle"], "range": [350, 320, 430]}, "legend": null}}},
            {"data": {"name": "ends"}, "transform": [{"filter": "datum.month === 'Jan 2007'"}], "mark": {"type": "circle", "size": 2304, "opacity": 1, "stroke": "black", "strokeWidth": 3},
             "encoding": {"fill": {"field": "end", "type": "nominal", "scale": {"domain": ["A", "B"], "range": ["#b8e0e3", "#cccc00"]}, "legend": null}}}
          ]
        },
        {"width": 228, "height": 1, "data": {"values": [{"a": 0}]}, "mark": {"type": "point", "opacity": 0}, "view": {"stroke": null}},
        {
          "width": 476, "height": 488,
          "title": {"text": "March 2007", "offset": 28, "dx": -12},
          "encoding": {
            "x": {"field": "d18O", "type": "quantitative", "scale": {"domain": [-10, 10], "nice": false, "zero": false}, "axis": {"title": "δ¹⁸O (‰)", "values": [-10, -5, 0, 5, 10], "labelExpr": "'' + datum.value", "titlePadding": 21}},
            "y": {"field": "dD", "type": "quantitative", "scale": {"domain": [-80, 40], "nice": false, "zero": false}, "axis": {"title": "δD (‰)", "values": [-80, -60, -40, -20, 0, 20, 40], "labelExpr": "'' + datum.value", "titlePadding": 13}}
          },
          "layer": [
            {"data": {"name": "lmwl"}, "mark": {"type": "rule", "color": "black", "strokeWidth": 1.2}, "encoding": {"x2": {"field": "d18O_end"}, "y2": {"field": "dD_end"}}},
            {"data": {"name": "pts"}, "transform": [{"filter": "datum.month === 'Mar 2007' && datum.group === 'open'"}], "mark": {"type": "point", "filled": false, "fill": "white", "fillOpacity": 1, "stroke": "#a2a2bd", "strokeWidth": 2, "opacity": 1},
             "encoding": {"shape": {"field": "symbol", "type": "nominal", "scale": {"domain": ["circle", "square", "triangle"], "range": ["circle", "square", "triangle-down"]}, "legend": null}, "size": {"field": "symbol", "type": "nominal", "scale": {"domain": ["circle", "square", "triangle"], "range": [350, 320, 430]}, "legend": null}}},
            {"data": {"name": "pts"}, "transform": [{"filter": "datum.month === 'Mar 2007' && datum.group === 'filled'"}], "mark": {"type": "point", "filled": true, "fill": "black", "stroke": "#8a8aa8", "strokeWidth": 2.5, "opacity": 1},
             "encoding": {"shape": {"field": "symbol", "type": "nominal", "scale": {"domain": ["circle", "square", "triangle"], "range": ["circle", "square", "triangle-down"]}, "legend": null}, "size": {"field": "symbol", "type": "nominal", "scale": {"domain": ["circle", "square", "triangle"], "range": [350, 320, 430]}, "legend": null}}},
            {"data": {"name": "ends"}, "transform": [{"filter": "datum.month === 'Mar 2007'"}], "mark": {"type": "circle", "size": 2304, "opacity": 1, "stroke": "black", "strokeWidth": 3},
             "encoding": {"fill": {"field": "end", "type": "nominal", "scale": {"domain": ["A", "B"], "range": ["#b8e0e3", "#cccc00"]}, "legend": null}}}
          ]
        }
      ]
    },
    {
      "spacing": 0,
      "bounds": "flush",
      "hconcat": [
        {"width": 7, "height": 1, "data": {"values": [{"a": 0}]}, "mark": {"type": "point", "opacity": 0}, "view": {"stroke": null}},
        {
          "width": 463, "height": 471,
          "title": {"text": "May 2007", "offset": 22, "dx": -9},
          "encoding": {
            "x": {"field": "d18O", "type": "quantitative", "scale": {"domain": [-10, 10], "nice": false, "zero": false}, "axis": {"title": "δ¹⁸O (‰)", "values": [-10, -5, 0, 5, 10], "labelExpr": "'' + datum.value", "titlePadding": 27}},
            "y": {"field": "dD", "type": "quantitative", "scale": {"domain": [-80, 40], "nice": false, "zero": false}, "axis": {"title": "δD (‰)", "values": [-80, -60, -40, -20, 0, 20, 40], "labelExpr": "'' + datum.value", "titlePadding": 8}}
          },
          "layer": [
            {"data": {"name": "lmwl"}, "mark": {"type": "rule", "color": "black", "strokeWidth": 1.2}, "encoding": {"x2": {"field": "d18O_end"}, "y2": {"field": "dD_end"}}},
            {"data": {"name": "dots"}, "transform": [{"filter": "datum.month === 'May 2007'"}], "mark": {"type": "circle", "size": 5, "color": "black", "opacity": 1}},
            {"data": {"name": "pts"}, "transform": [{"filter": "datum.month === 'May 2007' && datum.group === 'open'"}], "mark": {"type": "point", "filled": false, "fill": "white", "fillOpacity": 1, "stroke": "#a2a2bd", "strokeWidth": 2, "opacity": 1},
             "encoding": {"shape": {"field": "symbol", "type": "nominal", "scale": {"domain": ["circle", "square", "triangle"], "range": ["circle", "square", "triangle-down"]}, "legend": null}, "size": {"field": "symbol", "type": "nominal", "scale": {"domain": ["circle", "square", "triangle"], "range": [350, 320, 430]}, "legend": null}}},
            {"data": {"name": "pts"}, "transform": [{"filter": "datum.month === 'May 2007' && datum.group === 'filled'"}], "mark": {"type": "point", "filled": true, "fill": "black", "stroke": "#8a8aa8", "strokeWidth": 2.5, "opacity": 1},
             "encoding": {"shape": {"field": "symbol", "type": "nominal", "scale": {"domain": ["circle", "square", "triangle"], "range": ["circle", "square", "triangle-down"]}, "legend": null}, "size": {"field": "symbol", "type": "nominal", "scale": {"domain": ["circle", "square", "triangle"], "range": [350, 320, 430]}, "legend": null}}},
            {"data": {"name": "ends"}, "transform": [{"filter": "datum.month === 'May 2007'"}], "mark": {"type": "circle", "size": 2304, "opacity": 1, "stroke": "black", "strokeWidth": 3},
             "encoding": {"fill": {"field": "end", "type": "nominal", "scale": {"domain": ["A", "B"], "range": ["#b8e0e3", "#cccc00"]}, "legend": null}}}
          ]
        },
        {"width": 252, "height": 1, "data": {"values": [{"a": 0}]}, "mark": {"type": "point", "opacity": 0}, "view": {"stroke": null}},
        {
          "width": 472, "height": 475,
          "title": {"text": "July 2007", "offset": 16, "dx": 0},
          "encoding": {
            "x": {"field": "d18O", "type": "quantitative", "scale": {"domain": [-10, 10], "nice": false, "zero": false}, "axis": {"title": "δ¹⁸O (‰)", "values": [-10, -5, 0, 5, 10], "labelExpr": "'' + datum.value", "titlePadding": 10}},
            "y": {"field": "dD", "type": "quantitative", "scale": {"domain": [-80, 40], "nice": false, "zero": false}, "axis": {"title": "δD (‰)", "values": [-80, -60, -40, -20, 0, 20, 40], "labelExpr": "'' + datum.value", "titlePadding": 22}}
          },
          "layer": [
            {"data": {"name": "lmwl"}, "mark": {"type": "rule", "color": "black", "strokeWidth": 2}, "encoding": {"x2": {"field": "d18O_end"}, "y2": {"field": "dD_end"}}},
            {"data": {"name": "dots"}, "transform": [{"filter": "datum.month === 'Jul 2007'"}], "mark": {"type": "circle", "size": 5, "color": "black", "opacity": 1}},
            {"data": {"name": "pts"}, "transform": [{"filter": "datum.month === 'Jul 2007' && datum.group === 'open'"}], "mark": {"type": "point", "filled": false, "fill": "white", "fillOpacity": 1, "stroke": "#a2a2bd", "strokeWidth": 2, "opacity": 1},
             "encoding": {"shape": {"field": "symbol", "type": "nominal", "scale": {"domain": ["circle", "square", "triangle"], "range": ["circle", "square", "triangle-down"]}, "legend": null}, "size": {"field": "symbol", "type": "nominal", "scale": {"domain": ["circle", "square", "triangle"], "range": [350, 320, 430]}, "legend": null}}},
            {"data": {"name": "pts"}, "transform": [{"filter": "datum.month === 'Jul 2007' && datum.group === 'filled'"}], "mark": {"type": "point", "filled": true, "fill": "black", "stroke": "#8a8aa8", "strokeWidth": 2.5, "opacity": 1},
             "encoding": {"shape": {"field": "symbol", "type": "nominal", "scale": {"domain": ["circle", "square", "triangle"], "range": ["circle", "square", "triangle-down"]}, "legend": null}, "size": {"field": "symbol", "type": "nominal", "scale": {"domain": ["circle", "square", "triangle"], "range": [350, 320, 430]}, "legend": null}}},
            {"data": {"name": "ends"}, "transform": [{"filter": "datum.month === 'Jul 2007'"}], "mark": {"type": "circle", "size": 2304, "opacity": 1, "stroke": "black", "strokeWidth": 3},
             "encoding": {"fill": {"field": "end", "type": "nominal", "scale": {"domain": ["A", "B"], "range": ["#b8e0e3", "#cccc00"]}, "legend": null}}}
          ]
        },
        {"width": 230, "height": 1, "data": {"values": [{"a": 0}]}, "mark": {"type": "point", "opacity": 0}, "view": {"stroke": null}},
        {
          "spacing": 0,
          "bounds": "flush",
          "vconcat": [
            {"width": 1, "height": 5, "data": {"values": [{"a": 0}]}, "mark": {"type": "point", "opacity": 0}, "view": {"stroke": null}},
            {
              "width": 471, "height": 469,
              "title": {"text": "September 2007", "offset": 27, "dx": 11},
              "encoding": {
                "x": {"field": "d18O", "type": "quantitative", "scale": {"domain": [-10, 10], "nice": false, "zero": false}, "axis": {"title": "δ¹⁸O (‰)", "values": [-10, -5, 0, 5, 10], "labelExpr": "'' + datum.value", "titlePadding": 4}},
                "y": {"field": "dD", "type": "quantitative", "scale": {"domain": [-80, 40], "nice": false, "zero": false}, "axis": {"title": "δD (‰)", "values": [-80, -60, -40, -20, 0, 20, 40], "labelExpr": "'' + datum.value", "titlePadding": 16}}
              },
              "layer": [
                {"data": {"name": "lmwl"}, "mark": {"type": "rule", "color": "black", "strokeWidth": 2}, "encoding": {"x2": {"field": "d18O_end"}, "y2": {"field": "dD_end"}}},
                {"data": {"name": "dots"}, "transform": [{"filter": "datum.month === 'Sep 2007'"}], "mark": {"type": "circle", "size": 5, "color": "black", "opacity": 1}},
                {"data": {"name": "pts"}, "transform": [{"filter": "datum.month === 'Sep 2007' && datum.group === 'open'"}], "mark": {"type": "point", "filled": false, "fill": "white", "fillOpacity": 1, "stroke": "#a2a2bd", "strokeWidth": 2, "opacity": 1},
                 "encoding": {"shape": {"field": "symbol", "type": "nominal", "scale": {"domain": ["circle", "square", "triangle"], "range": ["circle", "square", "triangle-down"]}, "legend": null}, "size": {"field": "symbol", "type": "nominal", "scale": {"domain": ["circle", "square", "triangle"], "range": [350, 320, 430]}, "legend": null}}},
                {"data": {"name": "pts"}, "transform": [{"filter": "datum.month === 'Sep 2007' && datum.group === 'filled'"}], "mark": {"type": "point", "filled": true, "fill": "black", "stroke": "#8a8aa8", "strokeWidth": 2.5, "opacity": 1},
                 "encoding": {"shape": {"field": "symbol", "type": "nominal", "scale": {"domain": ["circle", "square", "triangle"], "range": ["circle", "square", "triangle-down"]}, "legend": null}, "size": {"field": "symbol", "type": "nominal", "scale": {"domain": ["circle", "square", "triangle"], "range": [350, 320, 430]}, "legend": null}}},
                {"data": {"name": "ends"}, "transform": [{"filter": "datum.month === 'Sep 2007'"}], "mark": {"type": "circle", "size": 2304, "opacity": 1, "stroke": "black", "strokeWidth": 3},
                 "encoding": {"fill": {"field": "end", "type": "nominal", "scale": {"domain": ["A", "B"], "range": ["#b8e0e3", "#cccc00"]}, "legend": null}}}
              ]
            }
          ]
        }
      ]
    }
  ],
  "config": {
    "font": "Liberation Sans",
    "view": {"stroke": "#333333", "strokeWidth": 1.5},
    "axis": {"grid": false, "domainColor": "#000000", "domainWidth": 2, "tickColor": "#000000", "tickWidth": 2, "labelColor": "#000000", "labelFontSize": 22, "labelFont": "Liberation Sans", "titleFont": "Liberation Sans", "titleFontSize": 28, "titleFontWeight": "normal", "titleColor": "#000000", "labelFlush": false, "labelOverlap": false},
    "axisX": {"tickSize": 10, "labelPadding": 12},
    "axisY": {"tickSize": 14, "labelPadding": 13},
    "title": {"font": "Liberation Sans", "fontSize": 35, "fontWeight": "normal", "color": "#000000", "anchor": "middle", "frame": "group"}
  }
}
